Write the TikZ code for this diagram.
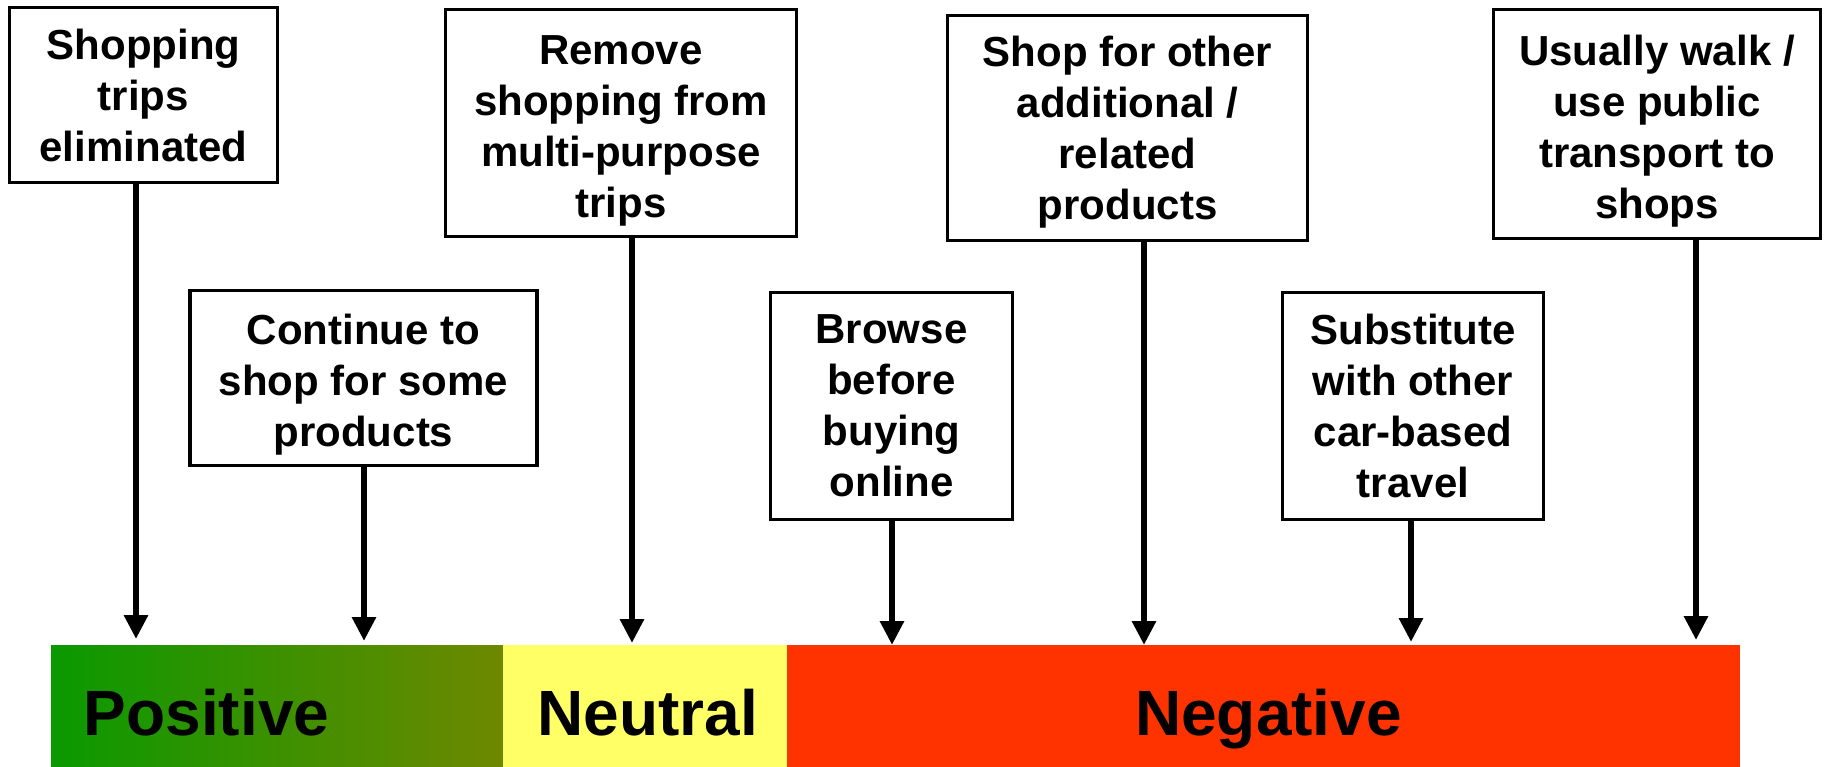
\documentclass[tikz,border=0pt]{standalone}
\usepackage{fontspec}
\setmainfont{Liberation Sans}
\usetikzlibrary{arrows.meta}
\definecolor{posL}{HTML}{0A9900}
\definecolor{posR}{HTML}{6E8800}
\definecolor{neu}{HTML}{FFFF66}
\definecolor{neg}{HTML}{FF3300}
% raise the top of a card's first line (pushes its text block down by half)
\newcommand\toppad[1]{\rule{0pt}{#1}}
\begin{document}
\begin{tikzpicture}[x=1pt,y=-1pt,
  card/.style={draw, line width=3.2pt, fill=white, align=center, inner sep=0pt,
    text depth=0pt, font=\bfseries\fontsize{42}{51}\selectfont},
  pointer/.style={line width=6.5pt, -{Triangle[length=24pt,width=23pt]}},
  band/.style={font=\bfseries\fontsize{64}{64}\selectfont, anchor=base, inner sep=0pt}]
\useasboundingbox (0,0) rectangle (1826,767);

% impact scale
\fill[left color=posL, right color=posR] (51,645) rectangle (503,767);
\fill[neu] (503,645) rectangle (787,767);
\fill[neg] (787,645) rectangle (1740,767);
\node[band] (pos) at (206.5,735) {Positive};
\node[band] (neut) at (648,735) {Neutral};
\node[band] (nega) at (1268.5,735) {Negative};

% behaviour cards
\node[card, minimum width=268pt, minimum height=175pt] (b1) at (143.5,95) {Shopping\\trips\\eliminated};
\node[card, minimum width=347pt, minimum height=175pt] (b2) at (363.5,378) {\toppad{34pt}Continue to\\shop for some\\products};
\node[card, minimum width=351pt, minimum height=227pt] (b3) at (621,123) {\toppad{36pt}Remove\\shopping from\\multi-purpose\\trips};
\node[card, minimum width=242pt, minimum height=227pt] (b4) at (891.5,406) {Browse\\before\\buying\\online};
\node[card, minimum width=360pt, minimum height=225pt] (b5) at (1127.5,128) {Shop for other\\additional /\\related\\products};
\node[card, minimum width=261pt, minimum height=227pt] (b6) at (1413,406) {Substitute\\with other\\car-based\\travel};
\node[card, minimum width=327pt, minimum height=229pt] (b7) at (1657,124) {\toppad{36pt}Usually walk /\\use public\\transport to\\shops};

% arrow targets on the scale
\coordinate (t1) at (136,639);
\coordinate (t2) at (364,641);
\coordinate (t3) at (632,643);
\coordinate (t4) at (892,645);
\coordinate (t5) at (1144,645);
\coordinate (t6) at (1411,642);
\coordinate (t7) at (1696,640);

\foreach \i in {1,...,7}
  \draw[pointer] (b\i.south -| t\i) -- (t\i);
\end{tikzpicture}
\end{document}
